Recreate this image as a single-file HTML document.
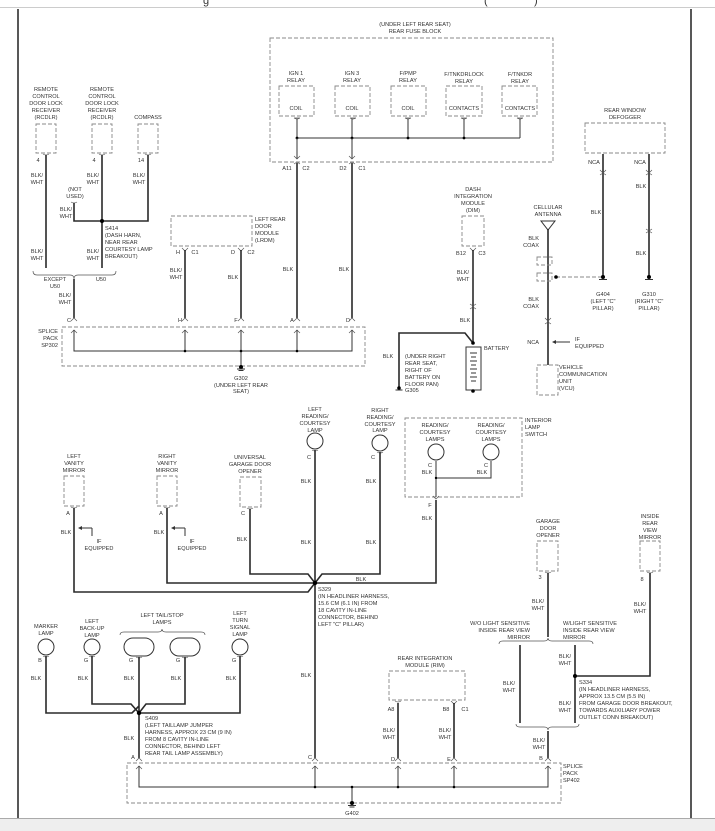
<!DOCTYPE html>
<html><head><meta charset="utf-8"><style>
html,body{margin:0;padding:0;background:#fff}
svg{display:block}
text{font-family:"Liberation Sans",sans-serif;font-size:5.6px;fill:#333}
.c{text-anchor:middle}.r{text-anchor:end}
.w{stroke:#2a2a2a;stroke-width:1.6;fill:none}
.b{stroke:#333;stroke-width:1;fill:none}
.d{stroke:#888;stroke-width:0.9;fill:none;stroke-dasharray:4 2}
.t{stroke:#555;stroke-width:0.7;fill:none}
.l{stroke:#333;stroke-width:1;fill:#fff}
</style></head><body>
<svg width="715" height="831" viewBox="0 0 715 831" xmlns="http://www.w3.org/2000/svg">
<rect x="0" y="0" width="715" height="831" fill="#fff"/>
<line x1="0" y1="7.5" x2="715" y2="7.5" stroke="#ccc" stroke-width="1"/>
<text x="203" y="4" style="font-size:11px">g</text>
<text x="484" y="4" style="font-size:11px">(</text><text x="534" y="4" style="font-size:11px">)</text>
<line x1="18" y1="9" x2="18" y2="818" stroke="#111" stroke-width="1.4"/>
<line x1="691" y1="9" x2="691" y2="818" stroke="#111" stroke-width="1.4"/>
<rect x="0" y="818" width="715" height="13" fill="#eeeeee"/>
<line x1="0" y1="818.5" x2="715" y2="818.5" stroke="#aaa" stroke-width="1"/>

<!-- REAR FUSE BLOCK -->
<text x="415" y="26" class="c">(UNDER LEFT REAR SEAT)</text>
<text x="415" y="33" class="c">REAR FUSE BLOCK</text>
<rect x="270" y="38" width="283" height="124" class="d"/>
<g>
<text x="296" y="75" class="c">IGN 1</text><text x="296" y="82" class="c">RELAY</text>
<rect x="279" y="86" width="35" height="30" class="d"/><text x="296" y="110" class="c">COIL</text>
<text x="352" y="75" class="c">IGN 3</text><text x="352" y="82" class="c">RELAY</text>
<rect x="335" y="86" width="35" height="30" class="d"/><text x="352" y="110" class="c">COIL</text>
<text x="408" y="75" class="c">F/PMP</text><text x="408" y="82" class="c">RELAY</text>
<rect x="391" y="86" width="35" height="30" class="d"/><text x="408" y="110" class="c">COIL</text>
<text x="464" y="76" class="c">F/TNKDRLOCK</text><text x="464" y="83" class="c">RELAY</text>
<rect x="446" y="86" width="36" height="30" class="d"/><text x="464" y="110" class="c">CONTACTS</text>
<text x="520" y="76" class="c">F/TNKDR</text><text x="520" y="83" class="c">RELAY</text>
<rect x="502" y="86" width="35" height="30" class="d"/><text x="520" y="110" class="c">CONTACTS</text>
</g>
<path class="t" d="M294 118h6M294 118q3 2 6 0M350 118q3 2 6 0M350 118h6M405 118q3 2 6 0M405 118h6M461 118q3 2 6 0M461 118h6M517 118q3 2 6 0M517 118h6"/>
<path class="b" d="M297 119V138M352 119V138M408 119V138M464 119V138M520 119V138M297 138H520"/>
<circle cx="297" cy="138" r="1.4"/><circle cx="352" cy="138" r="1.4"/><circle cx="408" cy="138" r="1.4"/><circle cx="464" cy="138" r="1.4"/>
<path class="b" d="M297 138V159M352 138V159"/>
<path class="t" d="M294 156l3 3 3-3M349 156l3 3 3-3M294 164l3 -2 3 2M349 164l3 -2 3 2"/>
<text x="287" y="170" class="c">A11</text><text x="306" y="170" class="c">C2</text>
<text x="343" y="170" class="c">D2</text><text x="362" y="170" class="c">C1</text>
<path class="w" d="M297 163V318M352 163V318"/>
<text x="288" y="271" class="c">BLK</text><text x="344" y="271" class="c">BLK</text>

<!-- receivers -->
<text x="46" y="91" class="c">REMOTE</text><text x="46" y="98" class="c">CONTROL</text><text x="46" y="105" class="c">DOOR LOCK</text><text x="46" y="112" class="c">RECEIVER</text><text x="46" y="119" class="c">(RCDLR)</text>
<rect x="36" y="124" width="20" height="29" class="d"/>
<text x="102" y="91" class="c">REMOTE</text><text x="102" y="98" class="c">CONTROL</text><text x="102" y="105" class="c">DOOR LOCK</text><text x="102" y="112" class="c">RECEIVER</text><text x="102" y="119" class="c">(RCDLR)</text>
<rect x="92" y="124" width="20" height="29" class="d"/>
<text x="148" y="119" class="c">COMPASS</text>
<rect x="138" y="124" width="20" height="29" class="d"/>
<path class="t" d="M43 154q3 2 6 0M99 154q3 2 6 0M145 154q3 2 6 0M71 202q3 2 6 0"/>
<text x="38" y="162" class="c">4</text><text x="94" y="162" class="c">4</text><text x="141" y="162" class="c">14</text>
<path class="w" d="M46 155V268M102 155V268M148 155V221H74V203"/>
<circle cx="102" cy="221" r="2"/>
<text x="37" y="177" class="c">BLK/</text><text x="37" y="184" class="c">WHT</text>
<text x="93" y="177" class="c">BLK/</text><text x="93" y="184" class="c">WHT</text>
<text x="139" y="177" class="c">BLK/</text><text x="139" y="184" class="c">WHT</text>
<text x="75" y="191" class="c">(NOT</text><text x="75" y="198" class="c">USED)</text>
<text x="66" y="211" class="c">BLK/</text><text x="66" y="218" class="c">WHT</text>
<text x="105" y="230">S414</text><text x="105" y="237">(DASH HARN,</text><text x="105" y="244">NEAR REAR</text><text x="105" y="251">COURTESY LAMP</text><text x="105" y="258">BREAKOUT)</text>
<text x="37" y="253" class="c">BLK/</text><text x="37" y="260" class="c">WHT</text>
<text x="93" y="253" class="c">BLK/</text><text x="93" y="260" class="c">WHT</text>
<path class="t" d="M33 271q0 4 4 4H70q4 0 4 4q0-4 4-4H112q4 0 4-4"/>
<text x="55" y="281" class="c">EXCEPT</text><text x="55" y="288" class="c">U50</text><text x="101" y="281" class="c">U50</text>
<path class="w" d="M74 279V318"/>
<text x="65" y="297" class="c">BLK/</text><text x="65" y="304" class="c">WHT</text>

<!-- LRDM -->
<rect x="171" y="216" width="81" height="30" class="d"/>
<text x="255" y="221">LEFT REAR</text><text x="255" y="228">DOOR</text><text x="255" y="235">MODULE</text><text x="255" y="242">(LRDM)</text>
<path class="t" d="M182 248l3 3 3-3M238 248l3 3 3-3"/>
<text x="178" y="254" class="c">H</text><text x="195" y="254" class="c">C1</text><text x="233" y="254" class="c">D</text><text x="251" y="254" class="c">C2</text>
<path class="w" d="M185 250V318M241 250V318"/>
<text x="176" y="272" class="c">BLK/</text><text x="176" y="279" class="c">WHT</text>
<text x="233" y="279" class="c">BLK</text>

<!-- SP302 -->
<text x="69" y="322" class="c">C</text><text x="180" y="322" class="c">H</text><text x="236" y="322" class="c">F</text><text x="292" y="322" class="c">A</text><text x="348" y="322" class="c">D</text>
<path class="t" d="M71 321l3-3 3 3M182 321l3-3 3 3M238 321l3-3 3 3M294 321l3-3 3 3M349 321l3-3 3 3"/>
<rect x="62" y="327" width="303" height="39" class="d"/>
<text x="58" y="333" class="r">SPLICE</text><text x="58" y="340" class="r">PACK</text><text x="58" y="347" class="r">SP302</text>
<path class="t" d="M71 333l3-3 3 3M182 333l3-3 3 3M238 333l3-3 3 3M294 333l3-3 3 3M349 333l3-3 3 3"/>
<path class="b" d="M74 330V351H352V330M185 330V351M241 330V367M297 330V351"/>
<circle cx="185" cy="351" r="1.3"/><circle cx="241" cy="351" r="1.3"/><circle cx="297" cy="351" r="1.3"/>
<circle cx="241" cy="367" r="2"/><path class="b" d="M237 369h8M238.5 370.5h5"/>
<text x="241" y="380" class="c">G302</text><text x="241" y="387" class="c">(UNDER LEFT REAR</text><text x="241" y="393" class="c">SEAT)</text>

<!-- DIM / battery -->
<text x="473" y="191" class="c">DASH</text><text x="473" y="198" class="c">INTEGRATION</text><text x="473" y="205" class="c">MODULE</text><text x="473" y="212" class="c">(DIM)</text>
<rect x="462" y="216" width="22" height="30" class="d"/>
<path class="t" d="M470 248l3 3 3-3"/>
<text x="461" y="255" class="c">B12</text><text x="482" y="255" class="c">C3</text>
<path class="w" d="M473 250V343"/>
<text x="463" y="274" class="c">BLK/</text><text x="463" y="281" class="c">WHT</text>
<path class="t" d="M470 304l3 2 3-2M470 309l3-2 3 2"/>
<text x="465" y="322" class="c">BLK</text>
<path class="w" d="M473 343L465 333H399V387"/>
<circle cx="473" cy="343" r="1.8"/>
<rect x="466" y="347" width="15" height="43" class="l"/>
<path class="b" d="M470 353h7M471 357h5M470 361h7M471 365h5M470 369h7M471 373h5M470 377h7M471 381h5"/>
<circle cx="473" cy="391" r="1.8"/>
<text x="484" y="350">BATTERY</text>
<text x="388" y="358" class="c">BLK</text>
<text x="405" y="358">(UNDER RIGHT</text><text x="405" y="365">REAR SEAT,</text><text x="405" y="372">RIGHT OF</text><text x="405" y="379">BATTERY ON</text><text x="405" y="386">FLOOR PAN)</text><text x="405" y="392">G305</text>
<circle cx="399" cy="388" r="1.8"/><path class="b" d="M395.5 390h7"/>

<!-- cellular antenna / VCU -->
<text x="548" y="209" class="c">CELLULAR</text><text x="548" y="216" class="c">ANTENNA</text>
<path class="b" d="M541 221H555L548 230Z"/>
<path class="w" d="M548 229V365"/>
<text x="539" y="240" class="r">BLK</text><text x="539" y="247" class="r">COAX</text>
<rect x="537" y="257" width="15" height="8" class="d"/><rect x="537" y="273" width="15" height="8" class="d"/>
<path class="d" d="M556 277H603"/>
<circle cx="556" cy="277" r="1.8"/>
<text x="539" y="301" class="r">BLK</text><text x="539" y="308" class="r">COAX</text>
<path class="t" d="M545 318l3 3 3-3M545 324l3-2 3 2"/>
<text x="539" y="344" class="r">NCA</text>
<path class="b" d="M570 342H553"/><path d="M552 342l4-2v4z" fill="#333"/>
<text x="575" y="341">IF</text><text x="575" y="348">EQUIPPED</text>
<rect x="537" y="365" width="21" height="30" class="d"/>
<text x="559" y="369">VEHICLE</text><text x="559" y="376">COMMUNICATION</text><text x="559" y="383">UNIT</text><text x="559" y="390">(VCU)</text>

<!-- defogger -->
<text x="625" y="112" class="c">REAR WINDOW</text><text x="625" y="119" class="c">DEFOGGER</text>
<rect x="585" y="123" width="80" height="30" class="d"/>
<path class="w" d="M603 154V277M649 154V277"/>
<text x="594" y="164" class="c">NCA</text><text x="640" y="164" class="c">NCA</text>
<path class="t" d="M600 170l3 3 3-3M600 175l3-2 3 2M646 170l3 3 3-3M646 175l3-2 3 2M646 229l3 2 3-2M646 233l3-2 3 2"/>
<text x="596" y="214" class="c">BLK</text><text x="641" y="188" class="c">BLK</text><text x="641" y="255" class="c">BLK</text>
<circle cx="603" cy="277" r="2"/><circle cx="649" cy="277" r="2"/>
<path class="b" d="M599 279.5h8M645 279.5h8"/>
<text x="603" y="296" class="c">G404</text><text x="603" y="303" class="c">(LEFT "C"</text><text x="603" y="310" class="c">PILLAR)</text>
<text x="649" y="296" class="c">G310</text><text x="649" y="303" class="c">(RIGHT "C"</text><text x="649" y="310" class="c">PILLAR)</text>

<!-- ===== bottom half ===== -->
<text x="315" y="411" class="c">LEFT</text><text x="315" y="418" class="c">READING/</text><text x="315" y="425" class="c">COURTESY</text><text x="315" y="432" class="c">LAMP</text>
<circle cx="315" cy="441" r="8" class="l"/>
<text x="380" y="412" class="c">RIGHT</text><text x="380" y="419" class="c">READING/</text><text x="380" y="426" class="c">COURTESY</text><text x="380" y="432" class="c">LAMP</text>
<circle cx="380" cy="443" r="8" class="l"/>
<text x="309" y="459" class="c">C</text><text x="373" y="459" class="c">C</text>
<path class="t" d="M312 450q3 2 6 0M377 452q3 2 6 0"/>
<path class="w" d="M315 450V758M380 452V574H322L315 583M436 500V583H315"/>
<text x="306" y="483" class="c">BLK</text><text x="306" y="544" class="c">BLK</text>
<text x="371" y="483" class="c">BLK</text><text x="371" y="544" class="c">BLK</text>
<text x="361" y="581" class="c">BLK</text>

<rect x="405" y="418" width="117" height="79" class="d"/>
<text x="525" y="422">INTERIOR</text><text x="525" y="429">LAMP</text><text x="525" y="436">SWITCH</text>
<text x="435" y="427" class="c">READING/</text><text x="435" y="434" class="c">COURTESY</text><text x="435" y="441" class="c">LAMPS</text>
<text x="491" y="427" class="c">READING/</text><text x="491" y="434" class="c">COURTESY</text><text x="491" y="441" class="c">LAMPS</text>
<circle cx="436" cy="452" r="8" class="l"/><circle cx="491" cy="452" r="8" class="l"/>
<text x="430" y="467" class="c">C</text><text x="486" y="467" class="c">C</text>
<text x="427" y="474" class="c">BLK</text><text x="482" y="474" class="c">BLK</text>
<path class="b" d="M436 461V497M436 478H491V461"/>
<circle cx="436" cy="478" r="1.2"/>
<path class="t" d="M433 496l3 3 3-3"/>
<text x="430" y="507" class="c">F</text><text x="427" y="520" class="c">BLK</text>

<!-- vanity / UGDO -->
<text x="74" y="458" class="c">LEFT</text><text x="74" y="465" class="c">VANITY</text><text x="74" y="472" class="c">MIRROR</text>
<rect x="64" y="476" width="20" height="30" class="d"/>
<text x="167" y="458" class="c">RIGHT</text><text x="167" y="465" class="c">VANITY</text><text x="167" y="472" class="c">MIRROR</text>
<rect x="157" y="476" width="20" height="30" class="d"/>
<text x="250" y="459" class="c">UNIVERSAL</text><text x="250" y="466" class="c">GARAGE DOOR</text><text x="250" y="473" class="c">OPENER</text>
<rect x="240" y="477" width="21" height="30" class="d"/>
<path class="t" d="M71 507q3 2 6 0M164 507q3 2 6 0M247 508q3 2 6 0"/>
<text x="68" y="515" class="c">A</text><text x="161" y="515" class="c">A</text><text x="243" y="515" class="c">C</text>
<path class="w" d="M74 508V592H308L315 583M167 508V583H315M250 509V574H308L315 583"/>
<circle cx="315" cy="583" r="2.2"/>
<text x="66" y="534" class="c">BLK</text><text x="159" y="534" class="c">BLK</text><text x="242" y="541" class="c">BLK</text>
<path class="b" d="M92 528H81"/><path d="M78 528l4-2v4z" fill="#333"/>
<path class="b" d="M92 528V536"/>
<path class="b" d="M185 528H174"/><path d="M171 528l4-2v4z" fill="#333"/>
<path class="b" d="M185 528V536"/>
<text x="99" y="543" class="c">IF</text><text x="99" y="550" class="c">EQUIPPED</text>
<text x="192" y="543" class="c">IF</text><text x="192" y="550" class="c">EQUIPPED</text>
<text x="318" y="591">S329</text><text x="318" y="598">(IN HEADLINER HARNESS,</text><text x="318" y="605">15.6 CM (6.1 IN) FROM</text><text x="318" y="612">18 CAVITY IN-LINE</text><text x="318" y="619">CONNECTOR, BEHIND</text><text x="318" y="626">LEFT "C" PILLAR)</text>
<text x="306" y="677" class="c">BLK</text>

<!-- tail lamps -->
<text x="46" y="628" class="c">MARKER</text><text x="46" y="635" class="c">LAMP</text>
<circle cx="46" cy="647" r="8" class="l"/>
<text x="92" y="623" class="c">LEFT</text><text x="92" y="630" class="c">BACK-UP</text><text x="92" y="637" class="c">LAMP</text>
<circle cx="92" cy="647" r="8" class="l"/>
<text x="162" y="617" class="c">LEFT TAIL/STOP</text><text x="162" y="624" class="c">LAMPS</text>
<path class="t" d="M120 635q0-3 4-3H158q4 0 4-3q0 3 4 3H201q4 0 4 3"/>
<rect x="124" y="638" width="30" height="18" rx="9" class="l"/>
<rect x="170" y="638" width="30" height="18" rx="9" class="l"/>
<text x="240" y="615" class="c">LEFT</text><text x="240" y="622" class="c">TURN</text><text x="240" y="629" class="c">SIGNAL</text><text x="240" y="636" class="c">LAMP</text>
<circle cx="240" cy="647" r="8" class="l"/>
<path class="t" d="M43 656q3 2 6 0M89 656q3 2 6 0M136 657q3 2 6 0M182 657q3 2 6 0M237 656q3 2 6 0"/>
<text x="40" y="662" class="c">B</text><text x="86" y="662" class="c">G</text><text x="131" y="662" class="c">G</text><text x="178" y="662" class="c">G</text><text x="234" y="662" class="c">G</text>
<path class="w" d="M46 656V713H132L139 706M92 656V704H131L139 713M139 657V758M185 657V704H146L139 713M240 656V713H139"/>
<circle cx="139" cy="713" r="2.2"/>
<text x="36" y="680" class="c">BLK</text><text x="83" y="680" class="c">BLK</text><text x="129" y="680" class="c">BLK</text><text x="176" y="680" class="c">BLK</text><text x="231" y="680" class="c">BLK</text>
<text x="145" y="720">S409</text><text x="145" y="727">(LEFT TAILLAMP JUMPER</text><text x="145" y="734">HARNESS, APPROX 23 CM (9 IN)</text><text x="145" y="741">FROM 8 CAVITY IN-LINE</text><text x="145" y="748">CONNECTOR, BEHIND LEFT</text><text x="145" y="755">REAR TAIL LAMP ASSEMBLY)</text>
<text x="129" y="740" class="c">BLK</text>

<!-- garage door / mirror -->
<text x="548" y="523" class="c">GARAGE</text><text x="548" y="530" class="c">DOOR</text><text x="548" y="537" class="c">OPENER</text>
<rect x="537" y="541" width="21" height="30" class="d"/>
<text x="650" y="518" class="c">INSIDE</text><text x="650" y="525" class="c">REAR</text><text x="650" y="532" class="c">VIEW</text><text x="650" y="539" class="c">MIRROR</text>
<rect x="640" y="541" width="20" height="30" class="d"/>
<path class="t" d="M545 572q3 2 6 0M647 572q3 2 6 0"/>
<text x="540" y="579" class="c">3</text><text x="642" y="581" class="c">8</text>
<path class="w" d="M548 573V637M650 573V676H575M520 645V723M575 645V723"/>
<circle cx="575" cy="676" r="2"/>
<text x="538" y="603" class="c">BLK/</text><text x="538" y="610" class="c">WHT</text>
<text x="640" y="606" class="c">BLK/</text><text x="640" y="613" class="c">WHT</text>
<text x="530" y="625" class="r">W/O LIGHT SENSITIVE</text><text x="530" y="632" class="r">INSIDE REAR VIEW</text><text x="530" y="639" class="r">MIRROR</text>
<text x="563" y="625">W/LIGHT SENSITIVE</text><text x="563" y="632">INSIDE REAR VIEW</text><text x="563" y="639">MIRROR</text>
<path class="t" d="M499 644q0-3 4-3H544q4 0 4-3q0 3 4 3H589q4 0 4 3"/>
<text x="565" y="658" class="c">BLK/</text><text x="565" y="665" class="c">WHT</text>
<text x="509" y="685" class="c">BLK/</text><text x="509" y="692" class="c">WHT</text>
<text x="565" y="705" class="c">BLK/</text><text x="565" y="712" class="c">WHT</text>
<text x="579" y="684">S334</text><text x="579" y="691">(IN HEADLINER HARNESS,</text><text x="579" y="698">APPROX 13.5 CM (5.5 IN)</text><text x="579" y="705">FROM GARAGE DOOR BREAKOUT,</text><text x="579" y="712">TOWARDS AUXILIARY POWER</text><text x="579" y="719">OUTLET CONN BREAKOUT)</text>
<path class="t" d="M516 724q0 3 4 3H544q4 0 4 3q0-3 4-3H575q4 0 4-3"/>
<path class="w" d="M548 731V758"/>
<text x="539" y="742" class="c">BLK/</text><text x="539" y="749" class="c">WHT</text>

<!-- RIM -->
<text x="425" y="660" class="c">REAR INTEGRATION</text><text x="425" y="667" class="c">MODULE (RIM)</text>
<rect x="389" y="671" width="76" height="29" class="d"/>
<path class="t" d="M451 701l3 3 3-3M395 701q3 2 6 0"/>
<text x="391" y="711" class="c">A8</text><text x="446" y="711" class="c">B8</text><text x="465" y="711" class="c">C1</text>
<path class="w" d="M398 703V758M454 703V758"/>
<text x="389" y="732" class="c">BLK/</text><text x="389" y="739" class="c">WHT</text>
<text x="445" y="732" class="c">BLK/</text><text x="445" y="739" class="c">WHT</text>

<!-- SP402 -->
<text x="133" y="759" class="c">A</text><text x="310" y="759" class="c">C</text><text x="393" y="761" class="c">D</text><text x="449" y="761" class="c">E</text><text x="541" y="760" class="c">B</text>
<path class="t" d="M136 761l3-3 3 3M312 761l3-3 3 3M395 761l3-3 3 3M451 761l3-3 3 3M545 761l3-3 3 3"/>
<rect x="127" y="763" width="434" height="40" class="d"/>
<text x="563" y="768">SPLICE</text><text x="563" y="775">PACK</text><text x="563" y="782">SP402</text>
<path class="t" d="M136 769l3-3 3 3M312 769l3-3 3 3M395 769l3-3 3 3M451 769l3-3 3 3M545 769l3-3 3 3"/>
<path class="b" d="M139 766V787H548V766M315 766V787M398 766V787M454 766V787M352 787V803"/>
<circle cx="315" cy="787" r="1.3"/><circle cx="352" cy="787" r="1.3"/><circle cx="398" cy="787" r="1.3"/><circle cx="454" cy="787" r="1.3"/>
<circle cx="352" cy="803" r="2"/><path class="b" d="M348 805.5h8M349.5 807h5"/>
<text x="352" y="815" class="c">G402</text>
</svg>
</body></html>
